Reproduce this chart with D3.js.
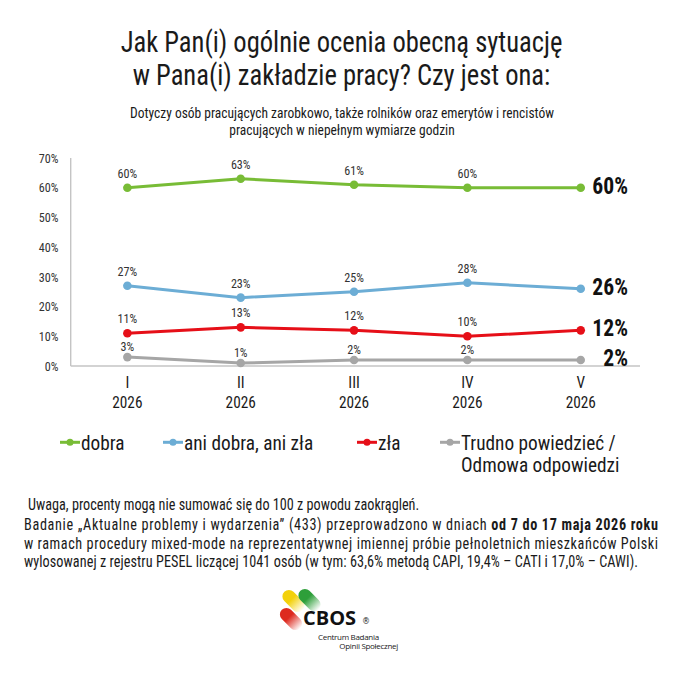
<!DOCTYPE html>
<html lang="pl">
<head>
    <meta charset="utf-8">
    <title>CBOS: ocena sytuacji w zakładzie pracy</title>
    <script type="text/javascript" src="https://cdn.jsdelivr.net/npm/d3@7"></script>
    <style type="text/css">
        body { margin: 0; background: #fff; }
        text { font-family: "Roboto Condensed", Roboto, "Liberation Sans", sans-serif; fill: #1a1a1a; }
    </style>
</head>
<body>
    <script type="text/javascript">

        //Data
        var months = ["I", "II", "III", "IV", "V"];
        var years = ["2026", "2026", "2026", "2026", "2026"];
        var dobra = [60, 63, 61, 60, 60];
        var aniDobraAniZla = [27, 23, 25, 28, 26];
        var zla = [11, 13, 12, 10, 12];
        var trudno = [3, 1, 2, 2, 2];
        var seriesNames = ["dobra", "ani dobra, ani zła", "zła", "Trudno powiedzieć /"];
        var yTicks = [0, 10, 20, 30, 40, 50, 60, 70];

        var series = [
            { name: seriesNames[0], values: dobra, color: "#78bc36", dy: 10 },
            { name: seriesNames[1], values: aniDobraAniZla, color: "#6cadd5", dy: 10 },
            { name: seriesNames[2], values: zla, color: "#e60f18", dy: 10 },
            { name: seriesNames[3], values: trudno, color: "#a6a6a6", dy: 6 }
        ];

        //Width and height
        var w = 680;
        var h = 679;
        var sx = 0.9; //horizontal squeeze to imitate the condensed face

        var svg = d3.select("body")
            .append("svg")
            .attr("width", w)
            .attr("height", h);

        //Text helper: condensed text placed at x,y
        function txt(parent, x, y, s, size, anchor, weight, squeeze) {
            return parent.append("text")
                .attr("transform", "translate(" + x + "," + y + ") scale(" + (squeeze || sx) + ",1)")
                .attr("text-anchor", anchor || "start")
                .style("font-size", size + "px")
                .style("font-weight", weight || "normal")
                .text(s);
        }

        //Titles
        txt(svg, 341.5, 51.5, "Jak Pan(i) ogólnie ocenia obecną sytuację", 29.5, "middle");
        txt(svg, 341.5, 84.5, "w Pana(i) zakładzie pracy? Czy jest ona:", 29.5, "middle");
        txt(svg, 342, 117.5, "Dotyczy osób pracujących zarobkowo, także rolników oraz emerytów i rencistów", 15, "middle");
        txt(svg, 342, 134.5, "pracujących w niepełnym wymiarze godzin", 15, "middle");

        //Scales
        var x = d3.scalePoint()
            .domain(months)
            .range([70.7, 637.4])
            .padding(0.5);

        var y = d3.scaleLinear()
            .domain([0, 70])
            .range([366, 158]);

        //Axes
        var axisColor = "#c4c4c4";
        svg.append("line")
            .attr("x1", 70.7).attr("x2", 70.7)
            .attr("y1", y(70)).attr("y2", y(0))
            .style("stroke", axisColor).style("stroke-width", 1.4);
        svg.append("line")
            .attr("x1", 70.7).attr("x2", 640)
            .attr("y1", y(0)).attr("y2", y(0))
            .style("stroke", axisColor).style("stroke-width", 1.4);

        yTicks.forEach(function (t) {
            txt(svg, 58.5, y(t) + 4.7, t + "%", 13.5, "end").style("fill", "#333");
        });

        months.forEach(function (m, i) {
            txt(svg, x(m), 388.3, m, 17, "middle");
            txt(svg, x(m), 408.3, years[i], 17, "middle");
        });

        //Lines
        var line = d3.line()
            .x(function (d, i) { return x(months[i]); })
            .y(function (d) { return y(d); });

        series.forEach(function (s) {
            var g = svg.append("g");
            g.append("path")
                .attr("d", line(s.values))
                .style("fill", "none")
                .style("stroke", s.color)
                .style("stroke-width", 3);
            g.selectAll("circle")
                .data(s.values)
                .enter()
                .append("circle")
                .attr("cx", function (d, i) { return x(months[i]); })
                .attr("cy", function (d) { return y(d); })
                .attr("r", 4.3)
                .style("fill", s.color);
            //small labels on every month but the last one
            s.values.slice(0, -1).forEach(function (v, i) {
                txt(g, x(months[i]), y(v) - s.dy, v + "%", 13.5, "middle").style("fill", "#333");
            });
            var last = s.values[s.values.length - 1];
            txt(g, 628, y(last) + 6, last + "%", 24, "end", "bold").style("fill", "#111");
        });

        //Legend
        var legendX = [60, 163, 357, 440];
        series.forEach(function (s, i) {
            var lx = legendX[i];
            svg.append("line")
                .attr("x1", lx).attr("x2", lx + 20)
                .attr("y1", 442.3).attr("y2", 442.3)
                .style("stroke", s.color).style("stroke-width", 3);
            svg.append("circle")
                .attr("cx", lx + 10).attr("cy", 442.3).attr("r", 3.5)
                .style("fill", s.color);
            txt(svg, lx + 21, 449.5, s.name, 20, null, null, 0.965);
        });
        txt(svg, 461, 472, "Odmowa odpowiedzi", 20, null, null, 0.965);

        //Notes
        txt(svg, 28, 509.7, "Uwaga, procenty mogą nie sumować się do 100 z powodu zaokrągleń.", 15.8);

        var p1 = txt(svg, 24, 529.7, "", 15.8);
        p1.append("tspan").text("Badanie „Aktualne problemy i wydarzenia” (433) przeprowadzono w dniach ");
        p1.append("tspan").style("font-weight", "bold").text("od 7 do 17 maja 2026 roku");
        p1.attr("textLength", 634 / sx).attr("lengthAdjust", "spacing");

        txt(svg, 24, 548.5, "w ramach procedury mixed-mode na reprezentatywnej imiennej próbie pełnoletnich mieszkańców Polski", 15.8)
            .attr("textLength", 634 / sx).attr("lengthAdjust", "spacing");
        txt(svg, 24, 567, "wylosowanej z rejestru PESEL liczącej 1041 osób (w tym: 63,6% metodą CAPI, 19,4% – CATI i 17,0% – CAWI).", 15.8)
            .attr("textLength", 614 / sx).attr("lengthAdjust", "spacing");

        //Logo
        var defs = svg.append("defs");
        var logo = svg.append("g");
        var pills = [
            { id: "gy", c: "#f3d10a", cx: 293.5, cy: 601 },
            { id: "gg", c: "#2e9f3a", cx: 309.5, cy: 600 },
            { id: "gr", c: "#dd2a1f", cx: 291, cy: 619 }
        ];
        pills.forEach(function (p) {
            var gr = defs.append("linearGradient").attr("id", p.id)
                .attr("x1", "0").attr("x2", "1").attr("y1", "0").attr("y2", "0");
            gr.append("stop").attr("offset", "0").attr("stop-color", p.c);
            gr.append("stop").attr("offset", "0.4").attr("stop-color", p.c);
            gr.append("stop").attr("offset", "1").attr("stop-color", "#fff");
            logo.append("rect")
                .attr("x", -13).attr("y", -6.5)
                .attr("width", 26).attr("height", 13)
                .attr("rx", 6.5)
                .attr("transform", "translate(" + p.cx + "," + p.cy + ") rotate(45)")
                .style("fill", "url(#" + p.id + ")");
        });
        logo.append("text")
            .attr("x", 303).attr("y", 625)
            .style("font-family", "'Open Sans', 'DejaVu Sans', sans-serif")
            .style("font-size", "20px").style("font-weight", "bold")
            .style("fill", "#111")
            .text("CBOS");
        logo.append("text")
            .attr("x", 362).attr("y", 624)
            .style("font-family", "'DejaVu Sans', sans-serif")
            .style("font-size", "8px")
            .text("®");
        logo.append("text")
            .attr("x", 318).attr("y", 639.5)
            .style("font-family", "'Open Sans', sans-serif")
            .style("font-size", "8px")
            .style("letter-spacing", "-0.3px")
            .text("Centrum Badania");
        logo.append("text")
            .attr("x", 398).attr("y", 649)
            .attr("text-anchor", "end")
            .style("font-family", "'Open Sans', sans-serif")
            .style("font-size", "8px")
            .style("letter-spacing", "-0.3px")
            .text("Opinii Społecznej");

    </script>
</body>
</html>
